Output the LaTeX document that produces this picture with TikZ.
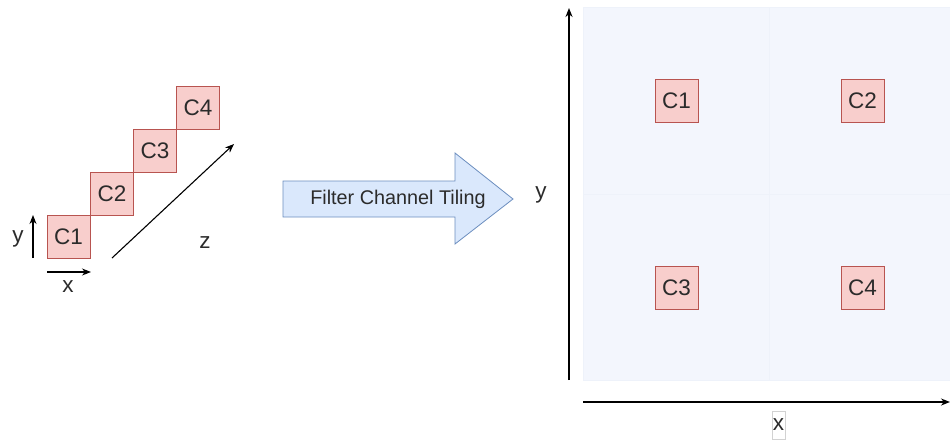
\documentclass[tikz,border=0pt]{standalone}
\usepackage{fontspec}
\setmainfont{Liberation Sans}
\usetikzlibrary{arrows.meta}
\definecolor{chanfill}{HTML}{F8CECC}
\definecolor{chanline}{HTML}{B85450}
\definecolor{flowfill}{HTML}{DAE8FC}
\definecolor{flowline}{HTML}{6C8EBF}
\definecolor{planefill}{HTML}{F3F6FD}
\definecolor{planeline}{HTML}{EEF2FA}
\definecolor{ink}{HTML}{2B2B2B}
\tikzset{
  chan/.style={draw=chanline, fill=chanfill, line width=0.9pt, minimum width=43pt,
    minimum height=43pt, inner sep=0pt, text=ink, font=\fontsize{22.5}{24}\selectfont},
  lbl/.style={text=ink, inner sep=0pt, font=\fontsize{22.5}{24}\selectfont},
  thinaxis/.style={line width=1.1pt, -{Stealth[length=9pt,width=7pt]}},
  bigaxis/.style={line width=1.5pt, -{Stealth[length=9pt,width=7pt]}},
  quad/.style={fill=planefill, draw=planeline, line width=0.4pt}
}
\begin{document}
\begin{tikzpicture}[x=1pt,y=-1pt]
\useasboundingbox (0,0) rectangle (950,440);

% stacked channels
\node[chan] (c1) at (68.5,236.5) {C1};
\node[chan] (c2) at (112,193.5) {C2};
\node[chan] (c3) at (155,150.5) {C3};
\node[chan] (c4) at (198,108) {C4};

% small axes of the stack
\coordinate (ya0) at (33,258);
\coordinate (ya1) at (33,215);
\draw[thinaxis] (ya0) -- (ya1);
\node[lbl] (ylab) at (18,239) {y};
\coordinate (xa0) at (47,272);
\coordinate (xa1) at (91,272);
\draw[thinaxis] (xa0) -- (xa1);
\node[lbl] (xlab) at (68,287) {x};
\coordinate (za0) at (112,258);
\coordinate (za1) at (234,144);
\draw[thinaxis] (za0) -- (za1);
\node[lbl] (zlab) at (205,243) {z};

% block arrow
\draw[draw=flowline, fill=flowfill, line width=0.8pt]
  (283,181) -- (455,181) -- (455,153) -- (513,199) -- (455,244) -- (455,217) -- (283,217) -- cycle;
\node[text=ink, inner sep=0pt, font=\fontsize{19.8}{21}\selectfont] (flow) at (398,199) {Filter Channel Tiling};

% tiled plane
\fill[planefill] (583,7) rectangle (952,380);
\draw[quad] (583,7) rectangle (769,194);
\draw[quad] (769,7) rectangle (955,194);
\draw[quad] (583,194) rectangle (769,380);
\draw[quad] (769,194) rectangle (955,380);

\node[chan] (t1) at (676.5,101) {C1};
\node[chan] (t2) at (862.5,101) {C2};
\node[chan] (t3) at (676.5,287.5) {C3};
\node[chan] (t4) at (862.5,287.5) {C4};

% axes of the plane
\coordinate (py0) at (569,380);
\coordinate (py1) at (569,8);
\draw[bigaxis] (py0) -- (py1);
\node[lbl] (pylab) at (541,195) {y};
\coordinate (px0) at (583,402);
\coordinate (px1) at (950,402);
\draw[bigaxis] (px0) -- (px1);
\node[lbl, draw=gray!35, fill=white, line width=0.5pt, minimum width=13pt, minimum height=28pt]
  (pxlab) at (778.5,425) {x};
\end{tikzpicture}
\end{document}
